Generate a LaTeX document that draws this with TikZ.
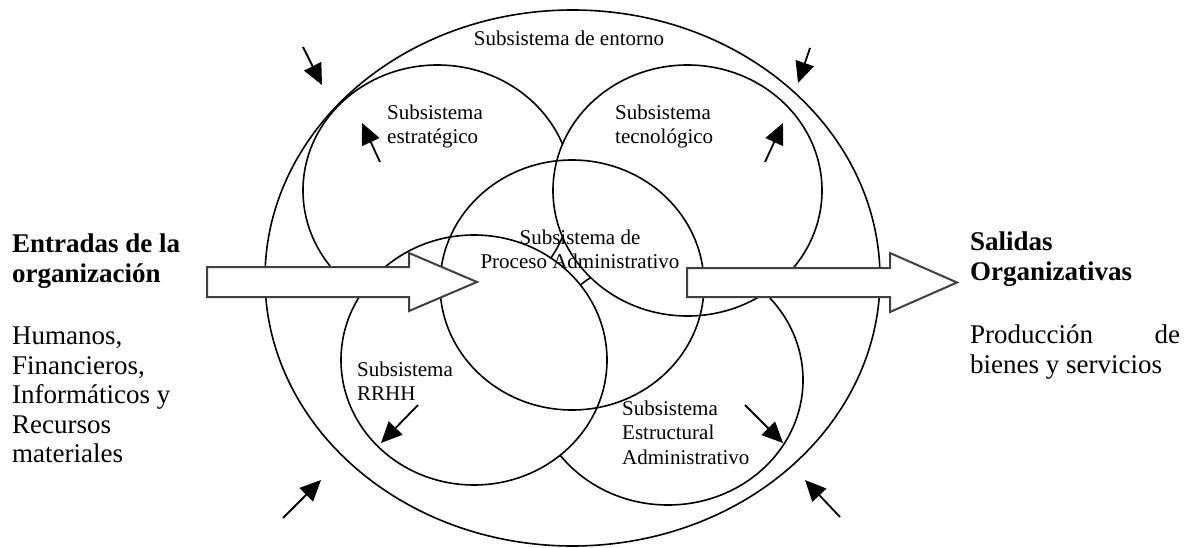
\documentclass[tikz,border=0pt]{standalone}
\usepackage{fontspec}
\setmainfont{Liberation Serif}
\usetikzlibrary{arrows.meta, positioning, shapes.geometric}
\tikzstyle{ring} = [draw, ellipse, line width=1.6pt, inner sep=0pt, minimum width=269pt, minimum height=251pt]
\tikzstyle{solid ring} = [ring, fill=white]
\tikzstyle{flow} = [draw=black!75, fill=white, line width=2pt, line join=miter]
\tikzstyle{push} = [-{Triangle[length=21pt, width=19pt]}, line width=1.8pt]
\tikzstyle{sublabel} = [font=\fontsize{21}{24.5}\selectfont, align=left, inner sep=0pt, anchor=north west]
\tikzstyle{sidetext} = [font=\fontsize{27}{29.5}\selectfont, align=left, inner sep=0pt, anchor=north west]

\begin{document}
\begin{tikzpicture}[x=1pt, y=-1pt]
    \useasboundingbox (0,0) rectangle (1194,548);

    % Subsystems.
    \node (entorno) [ring, minimum width=615pt, minimum height=536pt] at (572.5,278) {};
    \node (estrategico) [ring] at (437.5,190.5) {};
    \node (estructural) [ring, minimum width=270pt, minimum height=250pt] at (668,380) {};
    \node (tecnologico) [solid ring] at (687.5,190.5) {};
    \node (rrhh) [solid ring, minimum width=266pt, minimum height=250pt] at (474,360) {};
    \node (proceso) [ring, minimum width=264pt, minimum height=250pt] at (572,285) {};

    % Big arrows.
    \draw [flow] (207,267) -- (409,267) -- (409,253) -- (477,282) -- (409,311) -- (409,297) -- (207,297) -- cycle;
    \draw [flow] (687,268) -- (890,268) -- (890,253) -- (957,282.5) -- (890,312) -- (890,297) -- (687,297) -- cycle;

    % Small arrows.
    \foreach \n/\a/\b in {nw/{303,47}/{322,85}, ne/{810,48}/{798,83},
                          sw/{283,518}/{321,480}, se/{840,517}/{805,480},
                          est/{380,162}/{362,123}, tec/{765,162}/{783,123},
                          rh/{418,405}/{381,443}, estr/{745,405}/{783,443}} {
        \coordinate (\n tail) at (\a);
        \coordinate (\n tip) at (\b);
        \draw [push] (\n tail) -- (\n tip);
    }

    % Labels.
    \node (lbl entorno) [sublabel, anchor=base] at (569,46) {Subsistema de entorno};
    \node (lbl estrategico) [sublabel] at (387,104.7) {Subsistema\\estratégico};
    \node (lbl tecnologico) [sublabel] at (615,104.7) {Subsistema\\tecnológico};
    \node (lbl proceso) [sublabel, align=center, anchor=north] at (580,229.7) {Subsistema de\\Proceso Administrativo};
    \node (lbl rrhh) [sublabel] at (357,361.7) {Subsistema\\RRHH};
    \node (lbl estructural) [sublabel] at (622,400.7) {Subsistema\\Estructural\\Administrativo};

    \node (entradas) [sidetext] at (12,233.7) {\textbf{Entradas de la}\\\textbf{organización}};
    \node (recursos) [sidetext] at (12,327) {Humanos,\\Financieros,\\Informáticos y\\Recursos\\materiales};
    \node (salidas) [sidetext] at (970,231.7) {\textbf{Salidas}\\\textbf{Organizativas}};
    \node (produccion) [sidetext] at (970,324.6) {\makebox[210pt][l]{Producción\hfill de}\\bienes y servicios};
\end{tikzpicture}
\end{document}
